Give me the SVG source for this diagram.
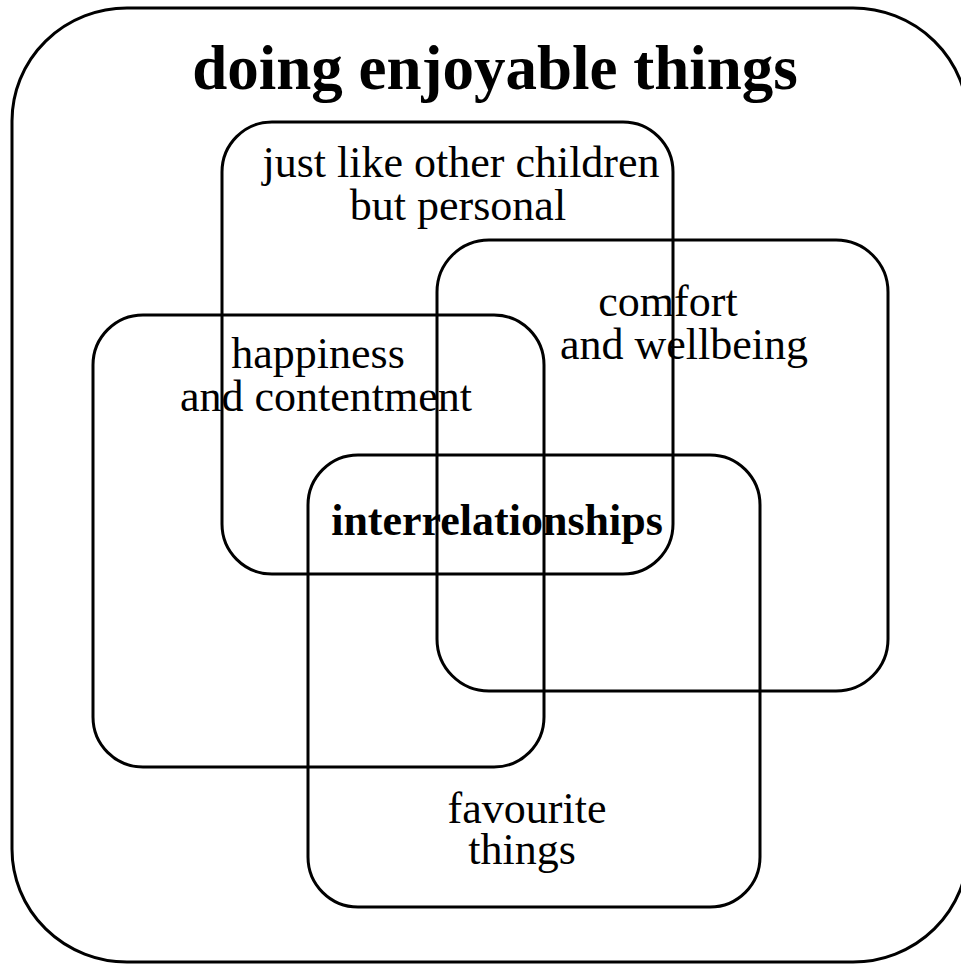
<svg xmlns="http://www.w3.org/2000/svg" width="961" height="964" viewBox="0 0 961 964">
  <style>
    .frame { fill: none; stroke: #000; stroke-width: 3; }
    .label { font-family: "Liberation Serif", "Times New Roman", serif; font-size: 44px; fill: #000; text-anchor: middle; }
    .bold { font-weight: bold; }
    .title { font-family: "Liberation Serif", "Times New Roman", serif; font-size: 63px; font-weight: bold; fill: #000; text-anchor: middle; }
  </style>
  <rect width="961" height="964" fill="#fff"/>

  <!-- outer boundary -->
  <g id="doing-enjoyable-things">
    <rect class="frame" x="12" y="8" width="956" height="954" rx="115" ry="113"/>
    <text class="title" x="495" y="89">doing enjoyable things</text>
  </g>

  <!-- overlapping theme sets -->
  <g id="just-like-other-children">
    <rect class="frame" x="222" y="122" width="451" height="452" rx="50"/>
    <text class="label" x="461" y="177">just like other children</text>
    <text class="label" x="458" y="220">but personal</text>
  </g>

  <g id="comfort-and-wellbeing">
    <rect class="frame" x="437" y="240" width="451" height="451" rx="52"/>
    <text class="label" x="668" y="316">comfort</text>
    <text class="label" x="684" y="359">and wellbeing</text>
  </g>

  <g id="happiness-and-contentment">
    <rect class="frame" x="93" y="315" width="451" height="452" rx="50"/>
    <text class="label" x="318" y="368">happiness</text>
    <text class="label" x="326" y="411">and contentment</text>
  </g>

  <g id="favourite-things">
    <rect class="frame" x="308" y="455" width="452" height="452" rx="50"/>
    <text class="label" x="527" y="823">favourite</text>
    <text class="label" x="522" y="864">things</text>
  </g>

  <g id="interrelationships">
    <text class="label bold" x="497" y="535">interrelationships</text>
  </g>

  <g id="connectors"></g>
</svg>
